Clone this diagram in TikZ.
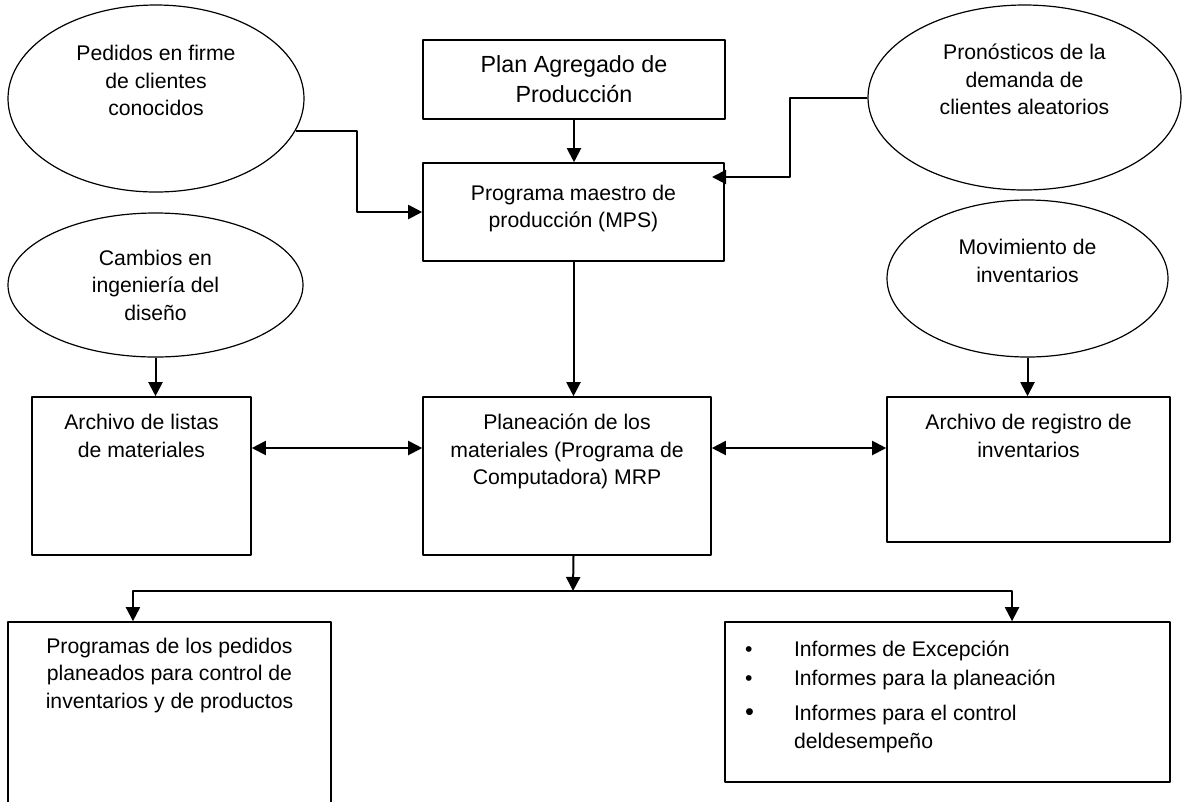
\documentclass[tikz,border=0pt]{standalone}
\usepackage{fontspec}
\setmainfont{Liberation Sans}
\usetikzlibrary{arrows.meta,shapes.geometric}
\newcommand{\txt}{\fontsize{15.9}{20.6}\selectfont}
\newcommand{\bigtxt}{\fontsize{17.5}{22.5}\selectfont}
\newcommand{\toptext}[4]{\parbox[c][#1][t]{#2}{\vspace*{#3}\centering #4}}
\newcommand{\bitem}[2][\textbullet]{\par\noindent\hangindent=51.75pt\hangafter=1\hspace*{15pt}\makebox[36.75pt][l]{#1}#2}
\begin{document}
\begin{tikzpicture}[x=0.75pt,y=-0.75pt,line join=round,font=\txt,
    box/.style={draw,line width=1.2pt,inner sep=0pt},
    oval/.style={draw,ellipse,line width=0.9pt,inner sep=0pt,align=center},
    arr/.style={-{Triangle[length=10.5pt,width=10.5pt]},line width=1.5pt},
    darr/.style={{Triangle[length=10.5pt,width=10.5pt]}-{Triangle[length=10.5pt,width=10.5pt]},line width=1.5pt}]
  \useasboundingbox (0,0) rectangle (1184,801);
  \clip (0,0) rectangle (1184,801);
  \node[oval,minimum width=222pt,minimum height=140.25pt] (ped) at (156,98.5)
    {Pedidos en firme\\de clientes\\conocidos\\\strut};
  \node[oval,minimum width=234.75pt,minimum height=138.75pt] (pro) at (1024.5,97.5)
    {Pronósticos de la\\demanda de\\clientes aleatorios\\\strut};
  \node[oval,minimum width=221.25pt,minimum height=108pt] (cam) at (155.5,285)
    {Cambios en\\ingeniería del\\diseño};
  \node[oval,minimum width=210.75pt,minimum height=117.75pt] (mov) at (1027.5,278.5)
    {Movimiento de\\inventarios\\\strut};
  \node[box,minimum width=226.5pt,minimum height=59.25pt,align=center,font=\bigtxt] (plan) at (574,79.5)
    {Plan Agregado de\\Producción};
  \node[box] (mps) at (573.5,212)
    {\toptext{73.5pt}{225.75pt}{16.6pt}{Programa maestro de\\producción (MPS)}};
  \node[box] (lis) at (141.5,476)
    {\toptext{118.5pt}{164.25pt}{12.9pt}{Archivo de listas\\de materiales}};
  \node[box] (mrp) at (567,476)
    {\toptext{118.5pt}{216pt}{12.9pt}{Planeación de los\\materiales (Programa de\\Computadora) MRP}};
  \node[box] (reg) at (1028.5,469.5)
    {\toptext{108.75pt}{212.25pt}{12.9pt}{Archivo de registro de\\inventarios}};
  \node[box] (prog) at (169.5,726)
    {\toptext{156pt}{242.25pt}{12.1pt}{Programas de los pedidos\\planeados para control de\\inventarios y de productos}};
  \node[box] (inf) at (947.5,702)
    {\parbox[c][120pt][t]{333.75pt}{\vspace*{13pt}\setlength{\parskip}{1pt}%
      \bitem{Informes de Excepción}\bitem{Informes para la planeación}\par\vspace{5pt}%
      \bitem[{\fontsize{19}{20.6}\selectfont\textbullet}]{Informes para el control\newline deldesempeño}}};
  \coordinate (mpsin) at (712,177);
  \coordinate (row) at (0,448);
  \coordinate (split) at (573,591);
  \draw[arr] (ped.-13) -| (357,180) |- (mps.west);
  \draw[arr] (pro.west) -| (790,140) |- (mpsin);
  \draw[arr] (plan.south) -- (plan.south |- mps.north);
  \draw[arr] (mps.south) -- (mps.south |- mrp.north);
  \draw[arr] (cam.south) -- (cam.south |- lis.north);
  \draw[arr] (mov.south) -- (mov.south |- reg.north);
  \draw[darr] (lis.east |- row) -- (mrp.west |- row);
  \draw[darr] (mrp.east |- row) -- (reg.west |- row);
  \draw[arr] (mps.south |- mrp.south) -- (split);
  \draw[arr] (split) -| ([xshift=-27.4pt]prog.north);
  \draw[arr] (split) -| ([xshift=48.4pt]inf.north);
\end{tikzpicture}
\end{document}
